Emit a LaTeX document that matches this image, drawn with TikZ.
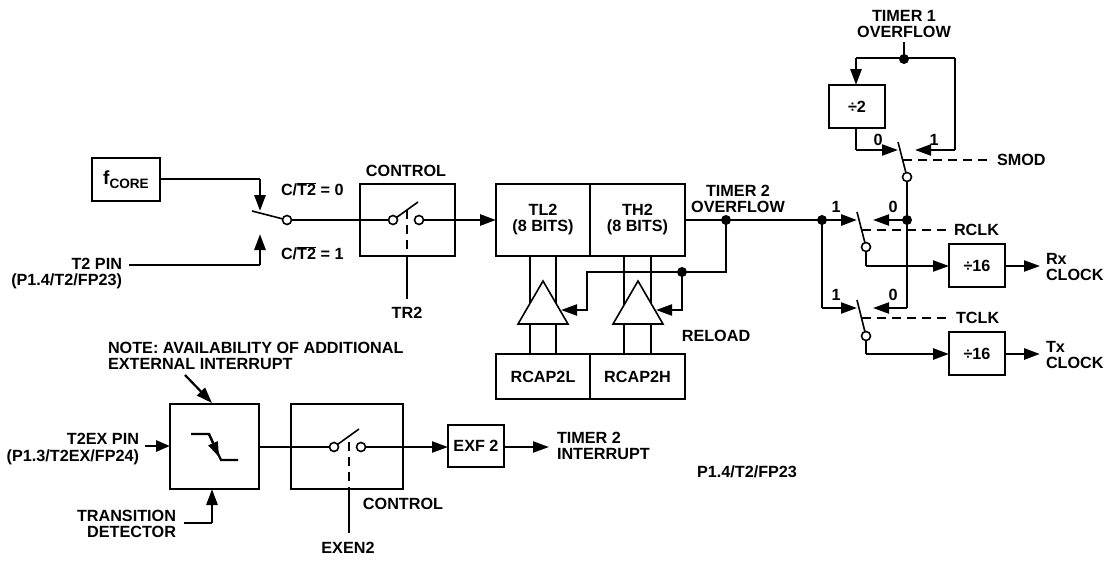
\documentclass[tikz,border=0pt]{standalone}
\usepackage{fontspec}
\setmainfont{Liberation Sans}[BoldFont={Liberation Sans Bold}]
\usetikzlibrary{arrows.meta,calc}
\newcommand{\ovlT}{$\overline{\hbox{\bfseries T2}}$}
\tikzset{
  thin line/.style={line width=1.6pt,draw=black},
  mid line/.style={line width=2.2pt,draw=black},
  thick line/.style={line width=2.8pt,draw=black},
  tip/.style={-{Triangle[length=16pt,width=11pt]}},
  box/.style={draw=black,line width=1.7pt,inner sep=0pt,outer sep=0pt,fill=white,align=center,font=\lbl},
  lbl text/.style={inner sep=0pt,outer sep=0pt,align=center,font=\lbl},
  pin/.style={circle,draw=black,line width=1.6pt,fill=white,minimum size=9pt,inner sep=0pt,outer sep=0pt},
  dot/.style={circle,fill=black,minimum size=10pt,inner sep=0pt,outer sep=0pt},
  dash ctl/.style={line width=1.6pt,dash pattern=on 9pt off 6pt},
  lever/.style={line width=1.6pt},
}
\newcommand{\lbl}{\fontsize{16.2}{16}\selectfont\bfseries}
\begin{document}
\begin{tikzpicture}[x=1pt,y=-1pt]
\useasboundingbox (0,0) rectangle (1105,560);
% ---- coordinates of free ends and bends
\coordinate (swtop) at (260,179);
\coordinate (swtoptip) at (260,211);
\coordinate (swbot) at (260,265);
\coordinate (swbottip) at (260,234);
\coordinate (lev1) at (252,211);
\coordinate (t2pinend) at (129,265);
\coordinate (tr2end) at (407,299);
% ---- boxes crossed by connectors
\node[box,minimum width=95pt,minimum height=72pt] (ctrlA) at (407.5,220) {};
\node[box,minimum width=112pt,minimum height=85pt] (ctrlB) at (347,446.5) {};
% ---- boxes
\node[box,minimum width=68pt,minimum height=43pt] (fcore) at (126,179.5) {\raisebox{3pt}{{\fontsize{19}{19}\selectfont f}\raisebox{-3.5pt}{\fontsize{13.6}{14}\selectfont CORE}}};
\node[box,minimum width=94pt,minimum height=72pt] (tl) at (543,220) {TL2\\(8 BITS)};
\node[box,minimum width=95pt,minimum height=72pt] (th) at (637.5,220) {TH2\\(8 BITS)};
\node[box,minimum width=94pt,minimum height=45pt] (rl) at (543,376.5) {RCAP2L};
\node[box,minimum width=95pt,minimum height=45pt] (rh) at (637.5,376.5) {RCAP2H};
\node[box,minimum width=56pt,minimum height=43pt] (div2) at (857,106.5) {÷2};
\node[box,minimum width=56pt,minimum height=43pt] (divA) at (977,265.5) {÷16};
\node[box,minimum width=56pt,minimum height=43pt] (divB) at (977,353.5) {÷16};
\node[box,minimum width=89pt,minimum height=85pt] (det) at (214.5,446.5) {};
\node[box,minimum width=56pt,minimum height=42pt] (exf) at (476,446) {EXF 2};
% ---- clock source switch
\draw[mid line] (fcore.east |- swtop) -- (swtop);
\draw[thick line,tip] (swtop) -- (swtoptip);
\draw[mid line] (t2pinend) -- (swbot);
\draw[thick line,tip] (swbot) -- (swbottip);
\node[pin] (s1) at (287,220) {};
\draw[lever] (lev1) -- (s1);
\node[pin] (c1a) at (393,220) {};
\node[pin] (c1b) at (419,220) {};
\draw[thin line] (s1) -- (c1a);
\coordinate (c1lev) at (418,202);
\draw[lever] (c1a) -- (c1lev);
\coordinate (c1d) at (407,210);
\draw[dash ctl] (c1d) -- (ctrlA.south -| c1d);
\draw[thin line] (ctrlA.south -| c1d) -- (tr2end);
\draw[thick line,tip] (c1b) -- (tl.west |- c1b);
% ---- reload
\coordinate (t2dot) at (726,220);
\coordinate (rldot) at (682,272);
\coordinate (b1) at (726,272);
\coordinate (b2) at (587,272);
\coordinate (b3) at (587,310);
\coordinate (b4) at (682,310);
\coordinate (t1tip) at (561,310);
\coordinate (t2tip) at (656,310);
\draw[thin line] (530,256) -- (530,354) (556,256) -- (556,354);
\draw[thin line] (624,256) -- (624,354) (651,256) -- (651,354);
\draw[thin line,fill=white] (543,281) -- (518,324) -- (568,324) -- cycle;
\draw[thin line,fill=white] (638,281) -- (613,324) -- (663,324) -- cycle;
\draw[mid line] (t2dot) -- (b1) -- (b2) -- (b3) -- (574,310);
\draw[mid line,tip] (578,310) -- (t1tip);
\draw[mid line] (rldot) -- (b4) -- (670,310);
\draw[mid line,tip] (673,310) -- (t2tip);
\node[dot] (dA) at (t2dot) {};
\node[dot] (dB) at (rldot) {};
% ---- output thick line
\coordinate (rxjoin) at (822,220);
\coordinate (r1tip) at (857,220);
\coordinate (r0tip) at (873,220);
\coordinate (t1low) at (822,308);
\coordinate (t1lowtip) at (857,308);
\coordinate (t0low) at (907,308);
\coordinate (t0lowtip) at (873,308);
\draw[thick line] (th.east |- t2dot) -- (rxjoin);
\draw[thick line,tip] (rxjoin) -- (r1tip);
\draw[mid line] (rxjoin) -- (t1low);
\draw[mid line,tip] (t1low) -- (t1lowtip);
% ---- timer 1 overflow
\coordinate (t1top) at (904,42);
\coordinate (t1dot) at (904,59);
\coordinate (lp1) at (856,58);
\coordinate (lp2) at (955,58);
\coordinate (lp3) at (955,150);
\coordinate (lp3tip) at (915,150);
\coordinate (lp4) at (856,150);
\coordinate (lp4tip) at (898,150);
\coordinate (lev2) at (898,142);
\coordinate (smodE) at (992,160);
\coordinate (smodS) at (903,160);
\draw[thin line] (t1top) -- (t1dot);
\draw[thick line,tip] (lp1) -- (856,85);
\draw[mid line] (904,58) -- (lp1);
\draw[mid line] (904,58) -- (lp2);
\draw[thin line] (lp2) -- (lp3);
\draw[mid line,tip] (lp3) -- (lp3tip);
\draw[thin line] (div2.south -| lp4) -- (lp4);
\draw[mid line,tip] (lp4) -- (lp4tip);
\node[dot] (dC) at (t1dot) {};
\node[pin] (s2) at (907,177) {};
\draw[lever] (lev2) -- (s2);
\draw[dash ctl] (smodS) -- (smodE);
\draw[thin line] (s2) -- (t0low);
\draw[mid line,tip] (907,220) -- (r0tip);
\draw[mid line,tip] (t0low) -- (t0lowtip);
\node[dot] (dD) at (907,220) {};
\node[dot] (dE) at (rxjoin) {};
% ---- RCLK switch
\coordinate (lev3) at (857,212);
\node[pin] (s3) at (866,247) {};
\draw[lever] (lev3) -- (s3);
\draw[dash ctl] (862,230) -- (952,230);
\coordinate (s3b) at (866,266);
\draw[thin line] (s3) -- (s3b);
\draw[mid line,tip] (s3b) -- (divA.west |- s3b);
\coordinate (rxe) at (1040,266);
\draw[mid line,tip] (divA.east |- rxe) -- (rxe);
% ---- TCLK switch
\coordinate (lev4) at (857,300);
\node[pin] (s4) at (866,336) {};
\draw[lever] (lev4) -- (s4);
\draw[dash ctl] (862,318) -- (952,318);
\coordinate (s4b) at (866,354);
\draw[thin line] (s4) -- (s4b);
\draw[thick line,tip] (s4b) -- (divB.west |- s4b);
\coordinate (txe) at (1040,354);
\draw[thick line,tip] (divB.east |- txe) -- (txe);
% ---- lower row
\coordinate (noteS) at (185,375);
\coordinate (noteE) at (212,403);
\draw[mid line,tip] (noteS) -- (noteE);
\coordinate (t2exS) at (145,446);
\draw[thick line,-{Triangle[length=14pt,width=11pt]}] (t2exS) -- (det.west |- t2exS);
\coordinate (tdS) at (184,523);
\coordinate (tdB) at (212,523);
\draw[mid line] (tdS) -- (tdB);
\draw[thick line,tip] (tdB) -- (det.south -| tdB);
\draw[mid line] (191,434) -- (209,434) -- (221,460) -- (238,460);
\draw[mid line,-{Triangle[length=15pt,width=10pt]}] (209,434) -- (219,457);
\node[pin] (c2a) at (334,447) {};
\node[pin] (c2b) at (361,447) {};
\draw[thin line] (det.east |- c2a) -- (c2a);
\coordinate (c2lev) at (359,429);
\draw[lever] (c2a) -- (c2lev);
\coordinate (c2d) at (349,442);
\draw[dash ctl] (c2d) -- (ctrlB.south -| c2d);
\coordinate (exenE) at (349,533);
\draw[thin line] (ctrlB.south -| c2d) -- (exenE);
\draw[mid line,tip] (c2b) -- (exf.west |- c2b);
\coordinate (intE) at (549,447);
\draw[mid line,tip] (exf.east |- intE) -- (intE);
% ---- labels
\node[lbl text] (lblC1) at (406,171) {CONTROL};
\node[lbl text,anchor=west] (lblZ) at (281,189) {C/\ovlT\ = 0};
\node[lbl text,anchor=west] (lblO) at (281,253) {C/\ovlT\ = 1};
\node[lbl text,anchor=east,align=right] (lblT2) at (122,274) {T2 PIN\\(P1.4/T2/FP23)};
\node[lbl text] (lblTR) at (407,313) {TR2};
\node[lbl text] (lblO2) at (738,199) {TIMER 2\\OVERFLOW};
\node[lbl text] (lblO1) at (904,24) {TIMER 1\\OVERFLOW};
\node[lbl text] (lblRel) at (716,336) {RELOAD};
\node[lbl text] (b0a) at (878,140) {0};
\node[lbl text] (b1a) at (934,140) {1};
\node[lbl text] (b1b) at (836,207) {1};
\node[lbl text] (b0b) at (893,207) {0};
\node[lbl text] (b1c) at (836,295) {1};
\node[lbl text] (b0c) at (893,295) {0};
\node[lbl text,anchor=west] (lblS) at (997,160) {SMOD};
\node[lbl text,anchor=west] (lblR) at (954,230) {RCLK};
\node[lbl text,anchor=west] (lblTc) at (956,318) {TCLK};
\node[lbl text,anchor=west,align=left] (lblRx) at (1046,267) {Rx\\CLOCK};
\node[lbl text,anchor=west,align=left] (lblTx) at (1046,355) {Tx\\CLOCK};
\node[lbl text,anchor=west,align=left] (lblN) at (108,356) {NOTE: AVAILABILITY OF ADDITIONAL\\EXTERNAL INTERRUPT};
\node[lbl text,anchor=east,align=right] (lblEx) at (139,449) {T2EX PIN\\[1pt](P1.3/T2EX/FP24)};
\node[lbl text,anchor=east,align=right] (lblTd) at (176,524) {TRANSITION\\DETECTOR};
\node[lbl text] (lblC2) at (403,504) {CONTROL};
\node[lbl text] (lblEn) at (348,548) {EXEN2};
\node[lbl text,anchor=west,align=left] (lblI) at (557,446) {TIMER 2\\INTERRUPT};
\node[lbl text] (lblP) at (747,472) {P1.4/T2/FP23};
\end{tikzpicture}
\end{document}
